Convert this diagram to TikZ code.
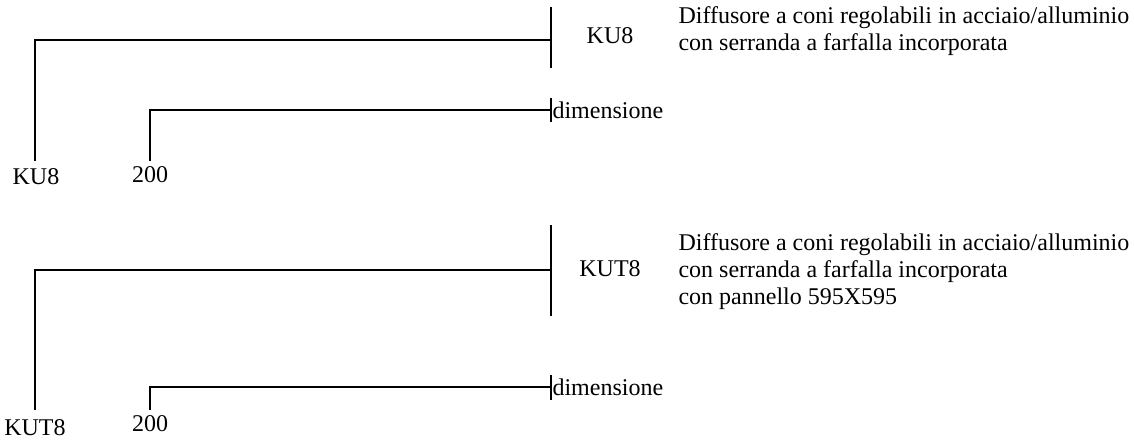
\documentclass[tikz,border=0pt]{standalone}
\usepackage{fontspec}
\setmainfont{Liberation Serif}
\tikzset{
  code/.style={inner sep=0.75pt,font=\fontsize{24}{26}\selectfont},
  desc/.style={anchor=west,inner sep=0.75pt,align=left,font=\fontsize{24}{27}\selectfont},
  dim/.style={anchor=west,inner sep=0.75pt,font=\fontsize{24}{26}\selectfont}
}
\begin{document}
\begin{tikzpicture}[x=1pt,y=1pt,yscale=-1,xscale=1,line width=1.6pt]
\useasboundingbox (0,0) rectangle (1134,441);
%Bar positions
\coordinate (barA) at (551,40);
\coordinate (barAt) at (551,7);
\coordinate (barAb) at (551,68);
\coordinate (barB) at (551,110);
\coordinate (barBt) at (551,98);
\coordinate (barBb) at (551,122);
\coordinate (barC) at (551,270);
\coordinate (barCt) at (551,225);
\coordinate (barCb) at (551,316);
\coordinate (barD) at (551,387);
\coordinate (barDt) at (551,375);
\coordinate (barDb) at (551,400);
\coordinate (legA) at (35,161);
\coordinate (legB) at (150,161);
\coordinate (legC) at (35,410);
\coordinate (legD) at (150,410);

% Text Node
\node (kuA) at (36,177) [code] {KU8};
\node (numA) at (150,175) [code] {200};
\node (kuC) at (35,428) [code] {KUT8};
\node (numC) at (150,424) [code] {200};
\node (tagA) at (610,36) [code] {KU8};
\node (tagC) at (610,269) [code] {KUT8};
\node (dimA) at (barB) [dim] {dimensione};
\node (dimC) at (barD) [dim] {dimensione};
\node (txtA) at (677,31) [desc] {Diffusore a coni regolabili in acciaio/alluminio\\con serranda a farfalla incorporata};
\node (txtC) at (677,272) [desc] {Diffusore a coni regolabili in acciaio/alluminio\\con serranda a farfalla incorporata\\con pannello 595X595};

%Straight Lines
\draw (barAt) -- (barAb);
\draw (legA) |- (barA);
\draw (barBt) -- (barBb);
\draw (legB) |- (barB);
\draw (barCt) -- (barCb);
\draw (legC) |- (barC);
\draw (barDt) -- (barDb);
\draw (legD) |- (barD);
\end{tikzpicture}
\end{document}
